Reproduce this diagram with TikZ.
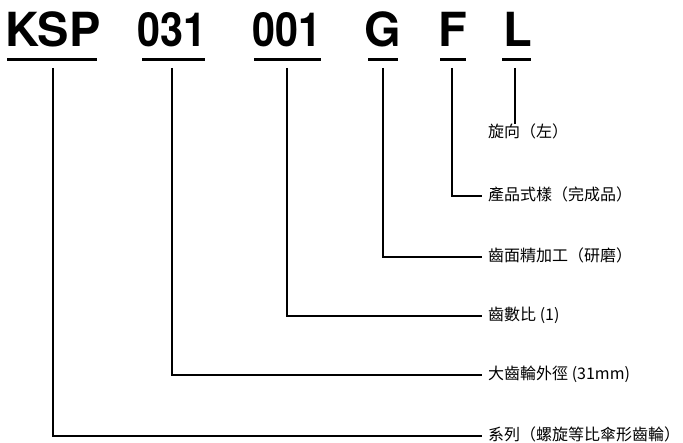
\documentclass[tikz,border=0pt]{standalone}
\usepackage{fontspec}
\setmainfont{TeX Gyre Heros}
\newfontfamily\narrowdigits[FakeStretch=0.88]{TeX Gyre Heros}
\newfontfamily\cjk{Noto Sans CJK TC}
\usetikzlibrary{positioning}

\begin{document}
\begin{tikzpicture}[
    x=1pt, y=-1pt,
    code/.style={anchor=base, inner sep=0pt, font=\fontsize{47}{50}\selectfont\bfseries},
    digits/.style={code, font=\narrowdigits\fontsize{47}{50}\selectfont\bfseries},
    part/.style={anchor=west, inner xsep=6pt, inner ysep=0pt, text height=14pt, text depth=4pt,
        font=\cjk\fontsize{16}{19}\selectfont},
    bar/.style={line width=3pt},
    lead/.style={line width=1.3pt}
]
    \useasboundingbox (0,0) rectangle (683,443);

    % Code letters
    \node[code] (ksp) at (53,47) {KSP};
    \node[digits] (dia) at (172,47) {031};
    \node[digits] (rat) at (287,47) {001};
    \node[code] (fin) at (383,47) {G};
    \node[code] (prd) at (453,47) {F};
    \node[code] (hnd) at (518,47) {L};

    % Underlines
    \draw[bar] (ksp.base) ++(-46,13) -- ++(90,0);
    \draw[bar] (dia.base) ++(-30,13) -- ++(63,0);
    \draw[bar] (rat.base) ++(-33,13) -- ++(67,0);
    \draw[bar] (fin.base) ++(-15,13) -- ++(30,0);
    \draw[bar] (prd.base) ++(-13,13) -- ++(26,0);
    \draw[bar] (hnd.base) ++(-16,13) -- ++(29,0);

    % Labels
    \node[part] (hndtxt) at (482,133) {旋向（左）};
    \node[part] (prdtxt) at (482,196) {產品式樣（完成品）};
    \node[part] (fintxt) at (482,257) {齒面精加工（研磨）};
    \node[part] (rattxt) at (482,316) {齒數比 (1)};
    \node[part] (diatxt) at (482,375) {大齒輪外徑 (31mm)};
    \node[part] (ksptxt) at (482,436) {系列（螺旋等比傘形齒輪）};

    % Leaders
    \draw[lead] ([xshift=-3pt]hnd.base) ++(0,21) -- ([xshift=-3pt]hndtxt.north -| hnd.base);
    \draw[lead] ([xshift=-1pt]prd.base) ++(0,21) |- (prdtxt.west);
    \draw[lead] (fin.base) ++(0,21) |- (fintxt.west);
    \draw[lead] (rat.base) ++(0,21) |- (rattxt.west);
    \draw[lead] (dia.base) ++(0,21) |- (diatxt.west);
    \draw[lead] (ksp.base) ++(0,21) |- (ksptxt.west);
\end{tikzpicture}
\end{document}
